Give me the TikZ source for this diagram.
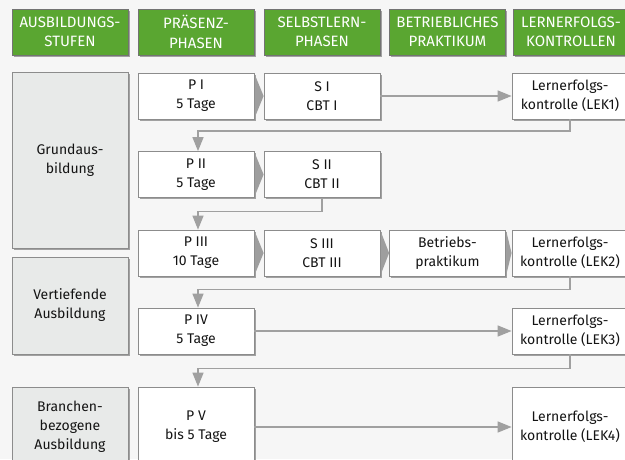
\documentclass[tikz,border=0pt]{standalone}
\usepackage{fontspec}
\setmainfont{Fira Sans}
\usetikzlibrary{arrows.meta,shadows,calc}
\definecolor{hgreen}{HTML}{5AA631}
\definecolor{bg}{HTML}{F6F6F6}
\definecolor{stagefill}{HTML}{E8EAE9}
\definecolor{linegray}{HTML}{A0A0A0}
\definecolor{txt}{HTML}{141414}
\begin{document}
\begin{tikzpicture}[x=1pt,y=-1pt,
  every node/.style={font=\fontsize{14}{19}\selectfont, align=center, inner sep=0pt},
  box/.style={draw=black!45, line width=0.8pt, fill=white, text=txt,
    minimum width=116pt, minimum height=46pt,
    drop shadow={shadow xshift=1.5pt, shadow yshift=-1.5pt, fill=black!45, opacity=0.8}},
  head/.style={box, fill=hgreen, text=white, draw=black!55, font=\fontsize{15}{19.5}\selectfont},
  stage/.style={box, fill=stagefill},
  conn/.style={draw=linegray, line width=1.4pt, -{Triangle[length=14pt,width=11pt]}},
  wedge/.style={fill=black!38}]
\useasboundingbox (0,0) rectangle (625,459);
\fill[bg] (0,0) rectangle (625,459);
\clip (0,0) rectangle (625,459);
% headers
\node[head] (h1) at (70,32) {AUSBILDUNGS-\\STUFEN};
\node[head] (h2) at (196,32) {PRÄSENZ-\\PHASEN};
\node[head] (h3) at (322,32) {SELBSTLERN-\\PHASEN};
\node[head] (h4) at (447.5,32) {BETRIEBLICHES\\PRAKTIKUM};
\node[head] (h5) at (571,32) {LERNERFOLGS-\\KONTROLLEN};
% stages
\node[stage, minimum height=176pt] (g1) at (70,160) {Grundaus-\\bildung};
\node[stage, minimum height=97pt] (g2) at (70,305.5) {Vertiefende\\Ausbildung};
\node[stage, minimum height=80pt] (g3) at (70,427) {Branchen-\\bezogene\\Ausbildung};
% row 1
\node[box] (p1) at (196,96) {P I\\5 Tage};
\node[box] (s1) at (322,96) {S I\\CBT I};
\node[box] (l1) at (570,96) {Lernerfolgs-\\kontrolle (LEK1)};
% row 2
\node[box] (p2) at (196,174.5) {P II\\5 Tage};
\node[box] (s2) at (322,174.5) {S II\\CBT II};
% row 3
\node[box] (p3) at (196,253) {P III\\10 Tage};
\node[box] (s3) at (322,253) {S III\\CBT III};
\node[box] (b3) at (447.5,253) {Betriebs-\\praktikum};
\node[box] (l2) at (570,253) {Lernerfolgs-\\kontrolle (LEK2)};
% row 4
\node[box] (p4) at (196,331) {P IV\\5 Tage};
\node[box] (l3) at (570,331) {Lernerfolgs-\\kontrolle (LEK3)};
% row 5
\node[box, minimum height=80pt] (p5) at (196,427) {P V\\bis 5 Tage};
\node[box, minimum height=80pt] (l4) at (570,427) {Lernerfolgs-\\kontrolle (LEK4)};
% wedges
\foreach \a/\b in {p1/s1,p2/s2,p3/s3,s3/b3,b3/l2}{
  \fill[wedge] ($(\a.north east)+(0.4,2)$) -- (\a.east -| \b.west) -- ($(\a.south east)+(0.4,-2)$) -- cycle;
}
% connectors
\draw[conn] (s1) -- (l1);
\draw[conn] (l1.south) |- ($(p2.north)+(2,-20)$) -- ($(p2.north)+(2,0)$);
\draw[conn] (s2.south) |- ($(p3.north)+(2,-18)$) -- ($(p3.north)+(2,0)$);
\draw[conn] (l2.south) |- ($(p4.north)+(2,-18)$) -- ($(p4.north)+(2,0)$);
\draw[conn] (p4) -- (l3);
\draw[conn] (l3.south) |- ($(p5.north)+(2,-18)$) -- ($(p5.north)+(2,0)$);
\draw[conn] (p5) -- (l4);
\end{tikzpicture}
\end{document}
